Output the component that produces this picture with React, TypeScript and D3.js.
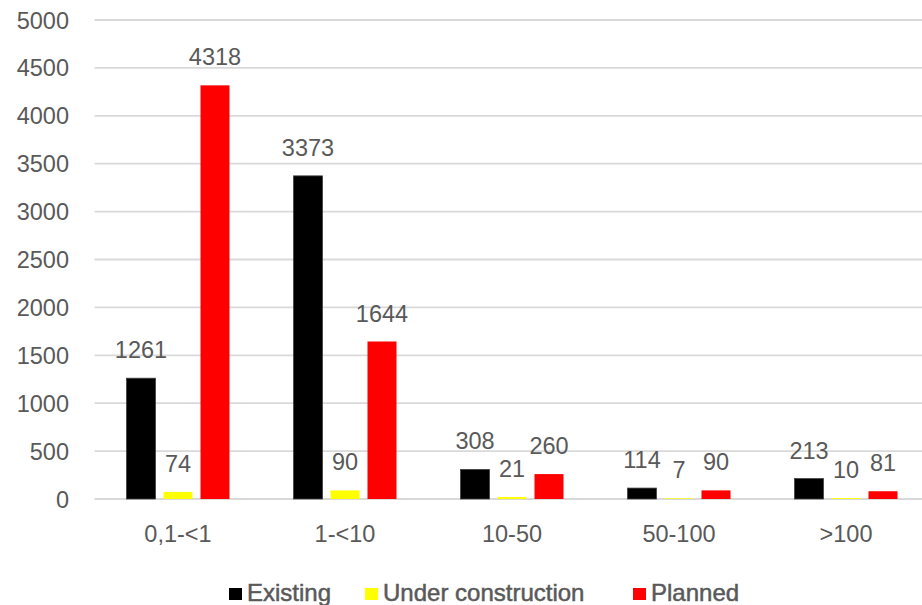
import React from "react";
import * as d3 from "d3";

const categories = ["0,1-<1", "1-<10", "10-50", "50-100", ">100"];
const seriesNames = ["Existing", "Under construction", "Planned"];
const existing = [1261, 3373, 308, 114, 213];
const underConstruction = [74, 90, 21, 7, 10];
const planned = [4318, 1644, 260, 90, 81];
const yTicks = [0, 500, 1000, 1500, 2000, 2500, 3000, 3500, 4000, 4500, 5000];
const seriesColors = ["#000000", "#ffff00", "#ff0000"];

const W = 922;
const H = 605;
const FONT = "'Liberation Sans', Arial, sans-serif";
const TEXT = "#595959";
const FS = 23.5;

export default function App() {
  const values = [existing, underConstruction, planned];

  const y = d3.scaleLinear().domain([0, 5000]).range([499, 20]);
  const x0 = d3.scaleBand<string>().domain(categories).range([94.5, 929.5]).padding(0);
  const x1 = d3
    .scaleBand<string>()
    .domain(seriesNames)
    .range([0, x0.bandwidth()])
    .paddingInner(0.216)
    .paddingOuter(0.865);

  const legendX = [229, 365, 633];

  return (
    <svg
      width={W}
      height={H}
      style={{ position: "absolute", left: 0, top: 0, background: "#fff" }}
      fontFamily={FONT}
    >
      {/* horizontal gridlines */}
      {yTicks.map((t) => (
        <line
          key={"g" + t}
          x1={x0.range()[0]}
          x2={W}
          y1={y(t)}
          y2={y(t)}
          stroke="#d9d9d9"
          strokeWidth={1.8}
        />
      ))}
      {/* y tick labels */}
      {yTicks.map((t) => (
        <text key={"t" + t} x={69} y={y(t) + 8.5} textAnchor="end" fontSize={FS} fill={TEXT}>
          {t}
        </text>
      ))}
      {/* bars and value labels */}
      {categories.map((c, ci) => (
        <g key={c} transform={`translate(${x0(c)},0)`}>
          {seriesNames.map((s, si) => {
            const v = values[si][ci];
            const bx = x1(s)!;
            const bw = x1.bandwidth();
            return (
              <g key={s}>
                <rect
                  x={bx}
                  y={y(v)}
                  width={bw}
                  height={y(0) - y(v)}
                  fill={seriesColors[si]}
                  stroke={si === 0 ? "#404040" : "none"}
                  strokeWidth={0.8}
                />
                <text
                  x={bx + bw / 2}
                  y={y(v) - 20}
                  textAnchor="middle"
                  fontSize={FS}
                  fill={TEXT}
                >
                  {v}
                </text>
              </g>
            );
          })}
          <text
            x={x0.bandwidth() / 2}
            y={542}
            textAnchor="middle"
            fontSize={FS}
            fill={TEXT}
          >
            {c}
          </text>
        </g>
      ))}
      {/* legend */}
      {seriesNames.map((s, si) => (
        <g key={"l" + s} transform={`translate(${legendX[si]},0)`}>
          <rect x={0} y={588} width={13} height={12} fill={seriesColors[si]} />
          <text
            x={18}
            y={601}
            fontSize={24}
            fill={TEXT}
            stroke={TEXT}
            strokeWidth={0.5}
          >
            {s}
          </text>
        </g>
      ))}
    </svg>
  );
}
